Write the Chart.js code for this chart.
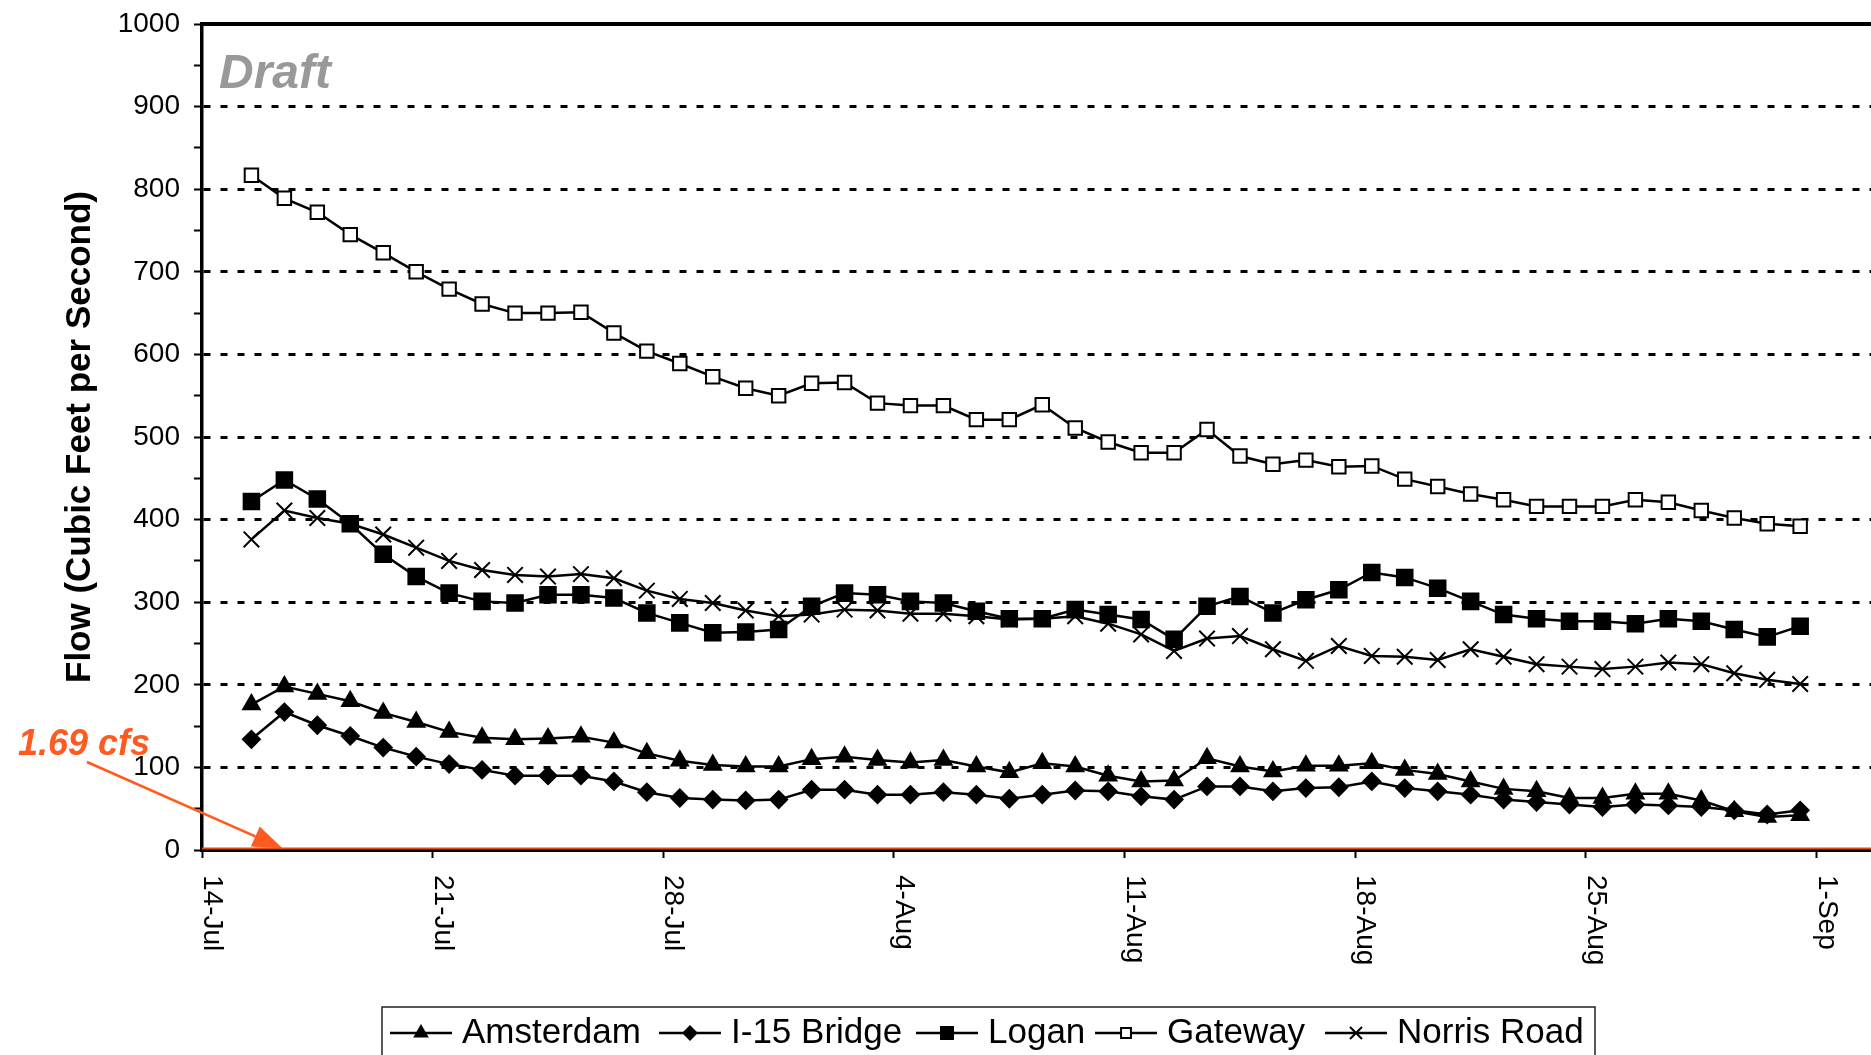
<!DOCTYPE html>
<html>
<head>
<meta charset="utf-8">
<script src="https://cdn.jsdelivr.net/npm/chart.js@4.4.1/dist/chart.umd.min.js"></script>
<style>
  html, body { margin: 0; padding: 0; background: #fff; overflow: hidden; }
  #wrap { width: 1871px; height: 1055px; position: relative; overflow: hidden; }
  canvas { display: block; }
</style>
</head>
<body>
<div id="wrap"><canvas id="flowChart"></canvas></div>
<script>
// daily categories, 15-Jul .. 31-Aug
const dates = [
  '15-Jul','16-Jul','17-Jul','18-Jul','19-Jul','20-Jul','21-Jul','22-Jul','23-Jul','24-Jul',
  '25-Jul','26-Jul','27-Jul','28-Jul','29-Jul','30-Jul','31-Jul','1-Aug','2-Aug','3-Aug',
  '4-Aug','5-Aug','6-Aug','7-Aug','8-Aug','9-Aug','10-Aug','11-Aug','12-Aug','13-Aug',
  '14-Aug','15-Aug','16-Aug','17-Aug','18-Aug','19-Aug','20-Aug','21-Aug','22-Aug','23-Aug',
  '24-Aug','25-Aug','26-Aug','27-Aug','28-Aug','29-Aug','30-Aug','31-Aug'
];

// axis ticks (days counted from 14-Jul)
const tickDays = [0, 7, 14, 21, 28, 35, 42, 49];
const tickLabels = ['14-Jul', '21-Jul', '28-Jul', '4-Aug', '11-Aug', '18-Aug', '25-Aug', '1-Sep'];

const amsterdam = [176, 198, 189, 180, 166, 155, 143, 136, 134, 135, 137, 130, 117, 108,
  103, 101, 101, 110, 113, 109, 106, 109, 101, 94, 105, 101, 90, 83, 84, 111, 101, 95, 102, 102,
  105, 97, 92, 83, 74, 71, 63, 63, 68, 68, 60, 47, 40, 42];
const i15Bridge = [134, 167, 151, 138, 124, 113, 104, 97, 90, 90, 90, 83, 70, 63,
  61, 60, 61, 73, 73, 67, 67, 70, 67, 62, 67, 72, 71, 65, 61, 77, 77, 71, 75, 76,
  83, 75, 71, 67, 61, 58, 55, 52, 55, 54, 52, 48, 43, 48];
const logan = [422, 448, 425, 395, 358, 331, 311, 301, 299, 309, 309, 305, 287, 275,
  263, 264, 267, 295, 311, 309, 301, 299, 289, 280, 280, 291, 285, 279, 255, 295, 307, 287, 303, 315,
  336, 330, 317, 301, 285, 280, 277, 277, 274, 280, 277, 267, 258, 271];
const gateway = [817, 789, 772, 745, 723, 700, 679, 661, 650, 650, 651, 626, 604, 589,
  573, 559, 550, 565, 566, 541, 538, 538, 521, 521, 539, 511, 494, 481, 481, 509, 477, 467, 472, 464,
  465, 449, 440, 431, 424, 416, 416, 416, 424, 421, 411, 402, 395, 392];
const norrisRoad = [376, 411, 402, 395, 382, 366, 350, 339, 333, 331, 334, 329, 314, 304,
  299, 290, 283, 285, 291, 290, 286, 286, 283, 279, 280, 283, 274, 261, 241, 256, 259, 243, 229, 247,
  235, 234, 230, 243, 234, 225, 222, 219, 222, 227, 225, 214, 206, 201];

const threshold = 1.69;          // cfs
const thresholdLabel = '1.69 cfs';
const arrowTipDay = 2.45;

const X_MAX = 50.65;
const FONT = "'Liberation Sans', Arial, Helvetica, sans-serif";
const ORANGE = '#FF5A1F';

// each point sits in the middle of its day slot
const toPoints = arr => arr.map((v, i) => ({ x: i + 1.5, y: v }));

function series(label, values, style, radius, fill) {
  return {
    label: label,
    data: toPoints(values),
    borderColor: '#000',
    borderWidth: 2.5,
    pointStyle: style,
    pointRadius: radius,
    pointBorderColor: '#000',
    pointBorderWidth: 2,
    pointBackgroundColor: fill,
    tension: 0,
    fill: false
  };
}

const legendItems = [
  { text: 'Amsterdam',   style: 'triangle', r: 7,   fill: '#000', x: 390 },
  { text: 'I-15 Bridge', style: 'rectRot',  r: 6.5, fill: '#000', x: 659 },
  { text: 'Logan',       style: 'rect',     r: 8.5, fill: '#000', x: 916 },
  { text: 'Gateway',     style: 'rect',     r: 7,   fill: '#fff', x: 1095 },
  { text: 'Norris Road', style: 'crossRot', r: 8.5, fill: '#000', x: 1325 }
];

function marker(ctx, style, x, y, r, fill) {
  ctx.save();
  ctx.beginPath();
  ctx.lineWidth = 2;
  ctx.strokeStyle = '#000';
  ctx.fillStyle = fill;
  if (style === 'triangle') {
    ctx.moveTo(x, y - r);
    ctx.lineTo(x + r * 0.866, y + r * 0.5);
    ctx.lineTo(x - r * 0.866, y + r * 0.5);
    ctx.closePath();
    ctx.fill(); ctx.stroke();
  } else if (style === 'rectRot') {
    ctx.moveTo(x, y - r); ctx.lineTo(x + r, y); ctx.lineTo(x, y + r); ctx.lineTo(x - r, y);
    ctx.closePath();
    ctx.fill(); ctx.stroke();
  } else if (style === 'rect') {
    const s = r * Math.SQRT1_2;
    ctx.rect(x - s, y - s, 2 * s, 2 * s);
    ctx.fill(); ctx.stroke();
  } else {
    const s = r * Math.SQRT1_2;
    ctx.moveTo(x - s, y - s); ctx.lineTo(x + s, y + s);
    ctx.moveTo(x + s, y - s); ctx.lineTo(x - s, y + s);
    ctx.stroke();
  }
  ctx.restore();
}

const decorPlugin = {
  id: 'decor',
  afterDraw(chart) {
    const { ctx, chartArea: a, scales } = chart;
    const xs = scales.x, ys = scales.y;
    ctx.save();

    // top frame line
    ctx.strokeStyle = '#000';
    ctx.lineWidth = 4;
    ctx.beginPath();
    ctx.moveTo(a.left - 1.5, a.top);
    ctx.lineTo(a.right, a.top);
    ctx.stroke();

    // date labels, rotated to read downwards
    ctx.fillStyle = '#000';
    ctx.font = '28px ' + FONT;
    ctx.textAlign = 'left';
    ctx.textBaseline = 'alphabetic';
    tickDays.forEach((d, i) => {
      ctx.save();
      ctx.translate(xs.getPixelForValue(d) + 2, a.bottom + 25);
      ctx.rotate(Math.PI / 2);
      ctx.fillText(tickLabels[i], 0, 0);
      ctx.restore();
    });

    // Draft watermark
    ctx.fillStyle = '#999';
    ctx.font = 'italic bold 48px ' + FONT;
    ctx.fillText('Draft', 219, 88);

    // threshold annotation
    const tipX = xs.getPixelForValue(arrowTipDay);
    const tipY = ys.getPixelForValue(threshold);
    const sx = 87, sy = 762;
    const ang = Math.atan2(tipY - sy, tipX - sx);
    const hl = 30, hw = 11;
    const bx = tipX - hl * Math.cos(ang), by = tipY - hl * Math.sin(ang);
    ctx.strokeStyle = ORANGE;
    ctx.fillStyle = ORANGE;
    ctx.lineWidth = 2.5;
    ctx.beginPath();
    ctx.moveTo(sx, sy);
    ctx.lineTo(bx, by);
    ctx.stroke();
    ctx.beginPath();
    ctx.moveTo(tipX, tipY);
    ctx.lineTo(bx + hw * Math.sin(ang), by - hw * Math.cos(ang));
    ctx.lineTo(bx - hw * Math.sin(ang), by + hw * Math.cos(ang));
    ctx.closePath();
    ctx.fill();
    ctx.font = 'italic bold 36px ' + FONT;
    ctx.fillText(thresholdLabel, 18, 755);

    // legend box
    ctx.strokeStyle = '#222';
    ctx.lineWidth = 1.5;
    ctx.strokeRect(382, 1007, 1213, 80);
    ctx.font = '35px ' + FONT;
    ctx.fillStyle = '#000';
    legendItems.forEach(it => {
      ctx.strokeStyle = '#000';
      ctx.lineWidth = 2.5;
      ctx.beginPath();
      ctx.moveTo(it.x, 1033);
      ctx.lineTo(it.x + 62, 1033);
      ctx.stroke();
      marker(ctx, it.style, it.x + 31, 1033, it.r, it.fill);
      ctx.fillStyle = '#000';
      ctx.fillText(it.text, it.x + 72, 1043);
    });

    ctx.restore();
  }
};

Chart.defaults.font.family = FONT;
Chart.defaults.color = '#000';

new Chart(document.getElementById('flowChart'), {
  type: 'line',
  data: {
    datasets: [
      series('Amsterdam', amsterdam, 'triangle', 9.5, '#000'),
      series('I-15 Bridge', i15Bridge, 'rectRot', 8.5, '#000'),
      series('Logan', logan, 'rect', 11, '#000'),
      series('Gateway', gateway, 'rect', 9.5, '#fff'),
      series('Norris Road', norrisRoad, 'crossRot', 11, '#000'),
      {
        label: thresholdLabel,
        data: [{ x: 0, y: threshold }, { x: X_MAX, y: threshold }],
        borderColor: '#E0481A',
        borderWidth: 2,
        pointRadius: 0,
        fill: false
      }
    ]
  },
  options: {
    responsive: true,
    maintainAspectRatio: false,
    animation: false,
    events: [],
    layout: { autoPadding: false, padding: { top: 24, right: 0, left: 0, bottom: 0 } },
    plugins: {
      legend: { display: false },
      tooltip: { enabled: false }
    },
    scales: {
      x: {
        type: 'linear',
        min: 0,
        max: X_MAX,
        afterBuildTicks: s => { s.ticks = tickDays.map(v => ({ value: v })); },
        afterFit: s => {
          s.height = 205;
          s.paddingLeft = 0; s.paddingRight = 0; s.paddingTop = 0; s.paddingBottom = 0;
        },
        ticks: { display: false },
        grid: {
          drawOnChartArea: false,
          drawTicks: true,
          tickLength: 8,
          tickWidth: 2,
          tickColor: '#000'
        },
        border: { display: true, color: '#000', width: 3 }
      },
      y: {
        min: 0,
        max: 1000,
        afterFit: s => {
          s.width = 202;
          s.paddingLeft = 0; s.paddingRight = 0; s.paddingTop = 0; s.paddingBottom = 0;
        },
        ticks: {
          stepSize: 50,
          autoSkip: false,
          padding: 14,
          font: { size: 28 },
          color: '#000',
          callback: v => (v % 100 === 0 ? v : '')
        },
        grid: {
          color: ctx => {
            const v = ctx.tick ? ctx.tick.value : 0;
            return (v % 100 === 0 && v > 0 && v < 1000) ? '#000' : 'rgba(0,0,0,0)';
          },
          lineWidth: 3,
          tickLength: 8,
          tickWidth: 2,
          tickColor: '#000'
        },
        border: { display: true, color: '#000', width: 3.5, dash: [7, 10] },
        title: {
          display: true,
          text: 'Flow (Cubic Feet per Second)',
          font: { size: 35, weight: 'bold' },
          color: '#000',
          padding: { top: 59, bottom: 0 }
        }
      }
    }
  },
  plugins: [decorPlugin]
});
</script>
</body>
</html>
